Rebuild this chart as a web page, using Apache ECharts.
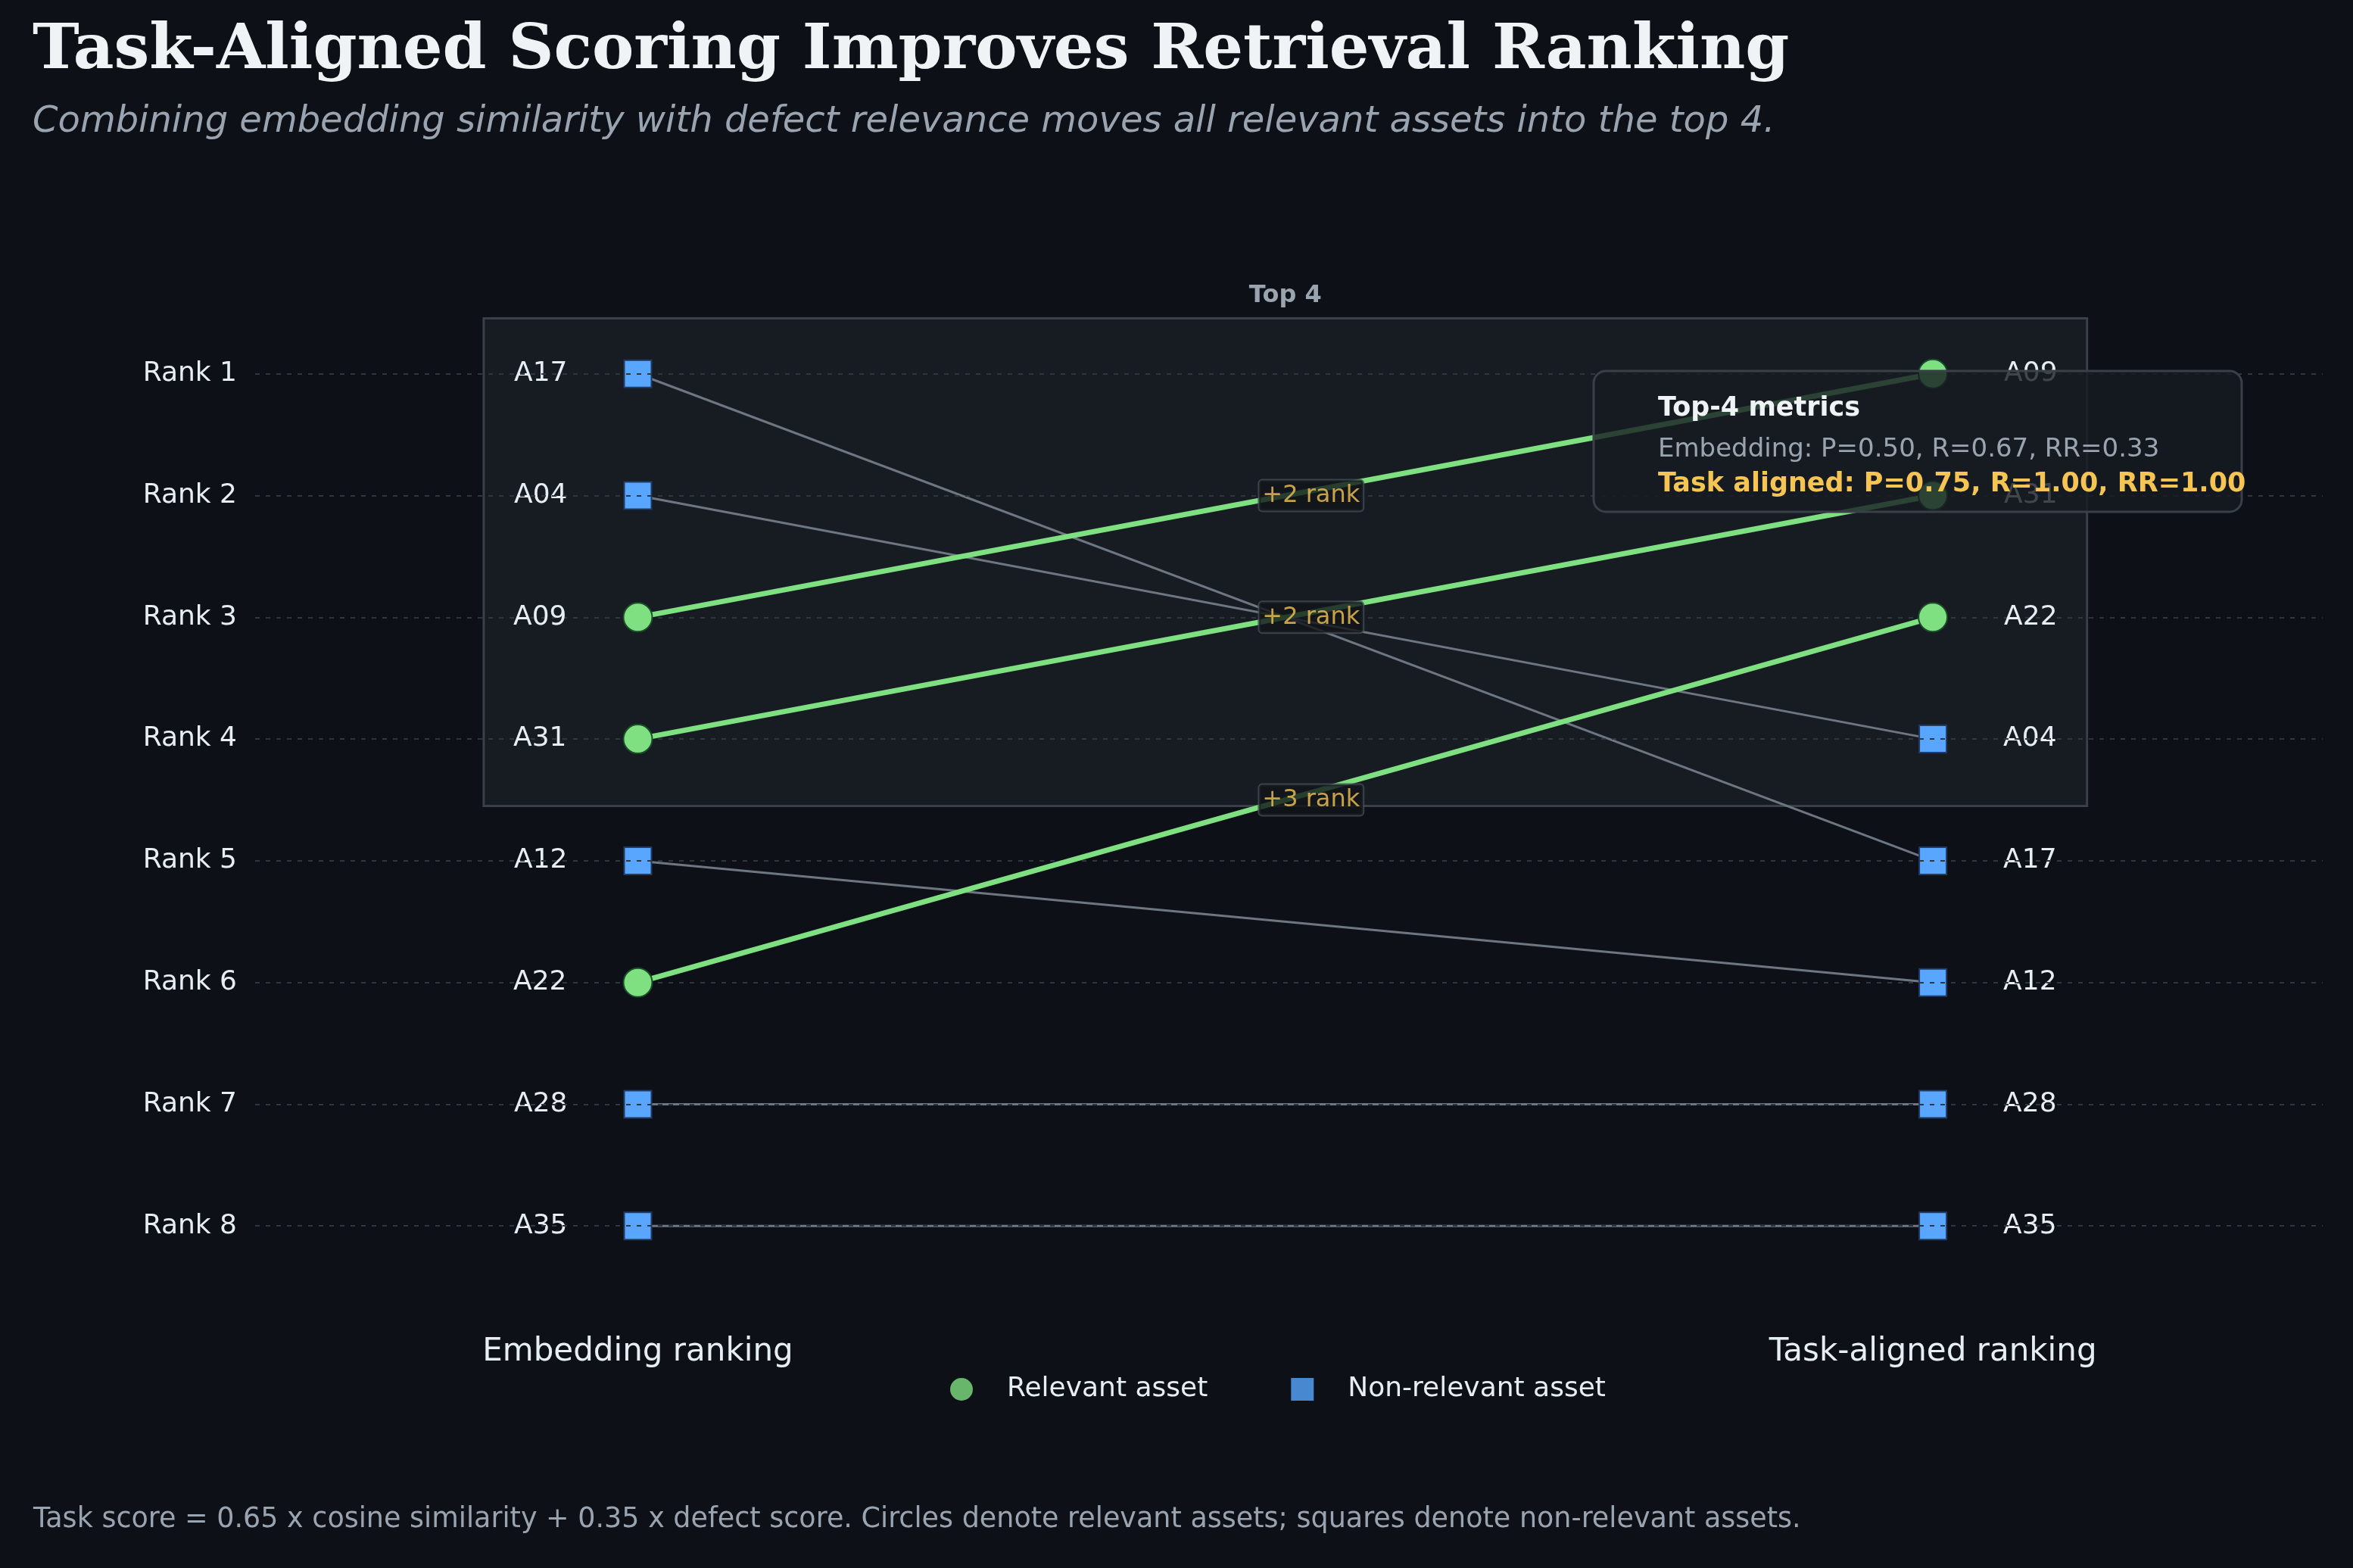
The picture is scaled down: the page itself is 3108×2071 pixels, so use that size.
<!DOCTYPE html>
<html><head><meta charset="utf-8">
<script src="https://cdn.jsdelivr.net/npm/echarts@6/dist/echarts.min.js"></script>
<style>html,body{margin:0;padding:0;background:#0d1117}#c{width:3108px;height:2071px}</style>
</head><body><div id="c"></div>
<script>
const rankLabels = ['Rank 1','Rank 2','Rank 3','Rank 4','Rank 5','Rank 6','Rank 7','Rank 8'];
const embeddingOrder = ['A17','A04','A09','A31','A12','A22','A28','A35'];
const taskOrder = ['A09','A31','A22','A04','A17','A12','A28','A35'];
const relevantAssets = ['A09','A31','A22'];
const columnTitles = ['Embedding ranking','Task-aligned ranking'];
const metricsLines = ['Top-4 metrics','Embedding: P=0.50, R=0.67, RR=0.33','Task aligned: P=0.75, R=1.00, RR=1.00'];

const GREEN='#7ee081', BLUE='#58a6ff', GRAY='#6e7681', BG='#0d1117', YEL='#f5c453';
const chart = echarts.init(document.getElementById('c'));
const series = [];
// grid lines & top-4 box
series.push({type:'line',data:[],silent:true,z:0,
  markLine:{silent:true,symbol:'none',label:{show:false},lineStyle:{color:'#30363d',type:[6,8],width:2},
    data:rankLabels.map((_,i)=>({yAxis:i+1}))},
  markArea:{silent:true,itemStyle:{color:'rgba(30,35,42,0.6)',borderColor:'#3a4048',borderWidth:3,borderRadius:10},
    label:{show:true,position:'top',formatter:'Top 4',color:'#9aa4b0',fontSize:32,fontWeight:'bold',fontFamily:'DejaVu Sans',distance:12},
    data:[[{xAxis:-0.119,yAxis:0.544},{xAxis:1.119,yAxis:4.55}]]}});
embeddingOrder.forEach((a,i)=>{
  const r1=i+1, r2=taskOrder.indexOf(a)+1, rel=relevantAssets.includes(a);
  const sym = rel?'circle':'rect';
  const col = rel?GREEN:BLUE;
  series.push({type:'line', name:a, z:rel?5:3,
    lineStyle:{color:rel?GREEN:GRAY,width:rel?7:3},
    symbol:sym, symbolSize:rel?38:36,
    itemStyle:{color:col,borderColor:rel?'#1b4d2a':'#1f3b66',borderWidth:2},
    label:{show:true,formatter:a,color:'#e6edf3',fontSize:36,fontFamily:'DejaVu Sans',distance:74},
    data:[{value:[0,r1],label:{position:'left'}},{value:[1,r2],label:{position:'right'}}],
    silent:true});
  if(rel && r1!==r2){
    series.push({type:'scatter',symbolSize:0,z:10,silent:true,
      data:[[0.5,(r1+r2)/2]],
      label:{show:true,position:'inside',offset:[34,0],formatter:(r1-r2>0?'+':'')+(r1-r2)+' rank',color:YEL,fontSize:32,
        fontFamily:'DejaVu Sans',backgroundColor:'#111418',borderColor:'#444c56',borderWidth:2,padding:[4,4],borderRadius:4}});
  }
});
series.push({type:'scatter',name:'Relevant asset',data:[],itemStyle:{color:GREEN}});
series.push({type:'scatter',name:'Non-relevant asset',data:[],itemStyle:{color:BLUE}});

chart.setOption({
  backgroundColor:BG, animation:false,
  title:{text:'Task-Aligned Scoring Improves Retrieval Ranking',
    subtext:'Combining embedding similarity with defect relevance moves all relevant assets into the top 4.',
    left:38,top:22,itemGap:28,
    textStyle:{color:'#f0f3f6',fontSize:83,fontWeight:'bold',fontFamily:'DejaVu Serif'},
    subtextStyle:{color:'#9aa4b0',fontSize:48,fontStyle:'italic',fontFamily:'DejaVu Sans'}},
  grid:{left:337,right:40,top:333,bottom:291},
  xAxis:{type:'value',min:-0.2955,max:1.301,show:false},
  yAxis:{type:'value',min:0,max:9,interval:1,inverse:true,splitLine:{show:false},axisLine:{show:false},axisTick:{show:false},
    axisLabel:{formatter:v=>(v>=1&&v<=8)?rankLabels[v-1]:'',color:'#e6edf3',fontSize:36,fontFamily:'DejaVu Sans',margin:24}},
  legend:{data:[{name:'Relevant asset',icon:'circle'},{name:'Non-relevant asset',icon:'rect'}],
    left:1250,top:1812,itemWidth:30,itemHeight:30,itemGap:110,
    textStyle:{color:'#e6edf3',fontSize:36,fontFamily:'DejaVu Sans',padding:[0,0,0,40]}},
  series
});
const p0=chart.convertToPixel({gridIndex:0},[0,1]), p1=chart.convertToPixel({gridIndex:0},[1,1]);
const tstyle={fill:'#e6edf3',fontSize:42,fontFamily:'DejaVu Sans',textAlign:'center',textVerticalAlign:'middle'};
chart.setOption({graphic:[
  {type:'text',style:Object.assign({text:columnTitles[0],x:p0[0],y:1786},tstyle)},
  {type:'text',style:Object.assign({text:columnTitles[1],x:p1[0],y:1786},tstyle)},
  {type:'rect',shape:{x:2105,y:490,width:856,height:186,r:16},style:{fill:'rgba(22,27,34,0.8)',stroke:'#3a4048',lineWidth:3},z:20},
  {type:'text',z:21,style:{text:metricsLines[0],x:2190,y:540,fill:'#f0f3f6',fontSize:35,fontWeight:'bold',fontFamily:'DejaVu Sans',textVerticalAlign:'middle'}},
  {type:'text',z:21,style:{text:metricsLines[1],x:2190,y:594,fill:'#9aa4b0',fontSize:34,fontFamily:'DejaVu Sans',textVerticalAlign:'middle'}},
  {type:'text',z:21,style:{text:metricsLines[2],x:2190,y:640,fill:YEL,fontSize:35,fontWeight:'bold',fontFamily:'DejaVu Sans',textVerticalAlign:'middle'}},
  {type:'text',style:{text:'Task score = 0.65 x cosine similarity + 0.35 x defect score. Circles denote relevant assets; squares denote non-relevant assets.',
    x:44,y:2008,fill:'#9aa4b0',fontSize:36.5,fontFamily:'DejaVu Sans',textVerticalAlign:'middle'}}
]});
</script></body></html>
